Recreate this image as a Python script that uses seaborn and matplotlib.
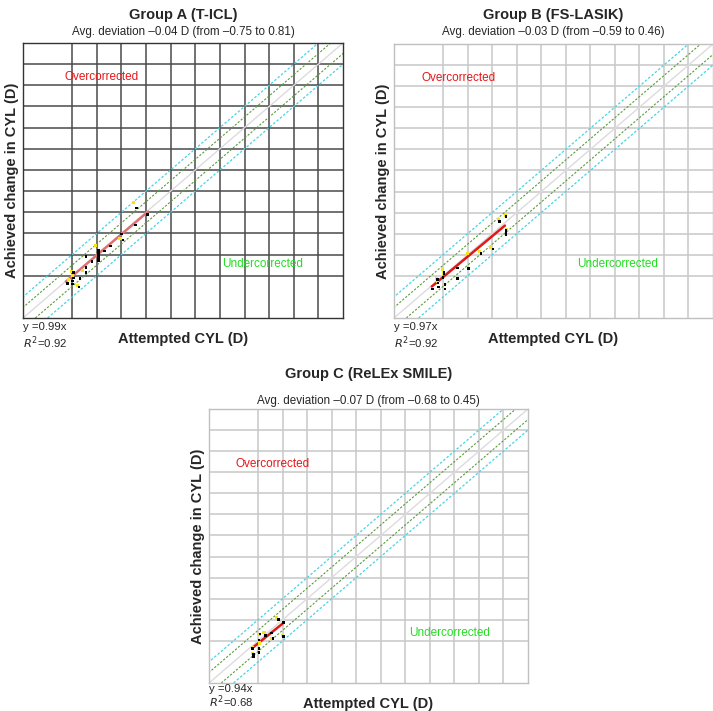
import numpy as np
import pandas as pd
import matplotlib
matplotlib.use("Agg")
import matplotlib.pyplot as plt
import seaborn as sns

# Group A (T-ICL): attempted / achieved CYL (D)
a_att = [1.80, 2.02, 2.02, 2.06, 2.06, 2.28, 2.32, 2.56, 2.56, 2.56, 2.80, 3.06, 3.06, 3.06,
         3.06, 3.06, 3.30, 3.56, 4.00, 4.06, 4.56, 4.60, 5.06]
a_ach = [1.64, 1.74, 1.60, 2.14, 1.90, 1.46, 1.86, 2.90, 2.40, 2.14, 2.66, 3.18, 3.04, 2.92,
         2.80, 2.70, 3.16, 3.40, 3.98, 3.68, 4.40, 5.20, 4.90]
a_yel_x = [1.96, 2.40, 2.96, 3.94, 4.50, 2.20, 1.84, 2.00]
a_yel_y = [2.20, 2.26, 3.44, 3.76, 5.48, 1.52, 1.80, 2.00]

# Group B (FS-LASIK)
b_att = [1.56, 1.78, 1.80, 1.82, 2.00, 2.04, 2.04, 2.08, 2.08, 2.58, 2.58, 3.04, 3.54, 4.04,
         4.30, 4.56, 4.56, 4.56, 4.56]
b_ach = [1.38, 1.82, 1.66, 1.48, 1.92, 2.18, 2.10, 1.60, 1.38, 2.38, 1.88, 2.34, 3.06, 3.28,
         4.58, 4.82, 4.16, 4.06, 3.96]
b_yel_x = [1.74, 1.76, 1.96, 2.00, 3.00, 3.48, 3.94, 4.26, 4.56, 4.60]
b_yel_y = [1.86, 1.74, 2.30, 2.10, 3.06, 3.14, 3.34, 4.68, 4.88, 4.22]

# Group C (ReLEx SMILE)
c_att = [1.78, 1.82, 1.82, 2.04, 2.04, 2.04, 2.08, 2.30, 2.54, 2.60, 2.84, 3.04, 3.04]
c_ach = [1.64, 1.36, 1.24, 2.04, 1.64, 1.44, 2.32, 2.26, 2.38, 2.12, 3.02, 2.88, 2.20]
c_yel_x = [1.76, 1.78, 2.06, 2.24, 2.54, 2.74, 3.00, 2.04]
c_yel_y = [1.70, 1.40, 2.32, 2.38, 2.12, 3.12, 2.26, 1.90]

titles = ["Group A (T-ICL)", "Group B (FS-LASIK)", "Group C (ReLEx SMILE)"]
subtitles = ["Avg. deviation \u20130.04 D (from \u20130.75 to 0.81)",
             "Avg. deviation \u20130.03 D (from \u20130.59 to 0.46)",
             "Avg. deviation \u20130.07 D (from \u20130.68 to 0.45)"]
slopes = [0.99, 0.97, 0.94]
r2 = [0.92, 0.92, 0.68]
fit_range = [(1.74, 5.08), (1.54, 4.52), (1.82, 3.00)]

sns.set_style("white")
plt.rcParams['font.family'] = ['Liberation Sans', 'DejaVu Sans']

fig = plt.figure(figsize=(7.13, 7.11), dpi=100)
W, H = 713, 711
# axes boxes in pixels: left, top, right, bottom
boxes = [(23, 43, 343, 318), (394, 44, 713, 318), (209, 409, 528, 683)]
title_y = [15, 15, 374]
sub_y = [32, 32, 401]
eq_y = [327, 327, 689]
r2_y = [343, 343, 702]
grid_col = ["#4a4a4a", "#c8c8c8", "#c8c8c8"]
frame_col = ["#333333", "#c0c0c0", "#c0c0c0"]
fit_col = ["#e07070", "#e01818", "#e01818"]
over_pos = [(1.7, 11.4), (1.12, 11.4), (1.08, 10.4)]
under_pos = [(8.1, 2.56), (7.46, 2.56), (8.16, 2.38)]

groups = [(a_att, a_ach, a_yel_x, a_yel_y), (b_att, b_ach, b_yel_x, b_yel_y),
          (c_att, c_ach, c_yel_x, c_yel_y)]

lim = 13
ref = np.array([0, lim])
for i, (att, ach, yx, yy) in enumerate(groups):
    l, t, r, b = boxes[i]
    ax = fig.add_axes([l / W, 1 - b / H, (r - l) / W, (b - t) / H])
    ax.set_xlim(0, lim)
    ax.set_ylim(0, lim)
    for g in range(2, 13):
        ax.axvline(g, color=grid_col[i], lw=1.1, zorder=0)
        ax.axhline(g, color=grid_col[i], lw=1.1, zorder=0)
    # +-1 D and +-0.5 D bands around the identity line
    ax.plot(ref - 1, ref, color="#44d4e4", ls=(0, (2, 1.5)), lw=0.9, zorder=1)
    ax.plot(ref + 1, ref, color="#44d4e4", ls=(0, (2, 1.5)), lw=0.9, zorder=1)
    ax.plot(ref - 0.5, ref, color="#5c9a3c", ls=(0, (2, 1.5)), lw=0.8, zorder=1)
    ax.plot(ref + 0.5, ref, color="#5c9a3c", ls=(0, (2, 1.5)), lw=0.8, zorder=1)
    ax.plot(ref, ref, color="#dcdcdc", lw=1.0, zorder=1)

    fx = np.array(fit_range[i])
    sns.lineplot(x=fx, y=slopes[i] * fx, ax=ax, color=fit_col[i], lw=1.8, zorder=3)
    sns.scatterplot(x=yx, y=yy, ax=ax, color="#f4e41c", s=5, marker="s",
                    edgecolor="none", zorder=4)
    sns.scatterplot(x=att, y=ach, ax=ax, color="black", s=3.5, marker="s",
                    edgecolor="none", zorder=5)

    ax.set_xticks([])
    ax.set_yticks([])
    for sp in ax.spines.values():
        sp.set_color(frame_col[i])
        sp.set_linewidth(1.0)

    ax.text(*over_pos[i], "Overcorrected", color="#e8161a", fontsize=8.5, va="center")
    ax.text(*under_pos[i], "Undercorrected", color="#22dd22", fontsize=8.5, va="center")

    cx = (l + r) / 2 / W
    fig.text(cx, 1 - title_y[i] / H, titles[i], ha="center", va="center",
             fontsize=10.5, fontweight="bold")
    fig.text(cx, 1 - sub_y[i] / H, subtitles[i], ha="center", va="center", fontsize=8.4)
    ax.set_xlabel("Attempted CYL (D)", fontsize=10.5, fontweight="bold", labelpad=10)
    ax.set_ylabel("Achieved change in CYL (D)", fontsize=10.5, fontweight="bold", labelpad=3)
    fig.text(l / W, 1 - eq_y[i] / H, "y =%.2fx" % slopes[i], fontsize=8.2,
             va="center", ha="left")
    fig.text(l / W, 1 - r2_y[i] / H, "$R^2$=%.2f" % r2[i], fontsize=8.2,
             va="center", ha="left")

plt.savefig("out.png", dpi=100)
